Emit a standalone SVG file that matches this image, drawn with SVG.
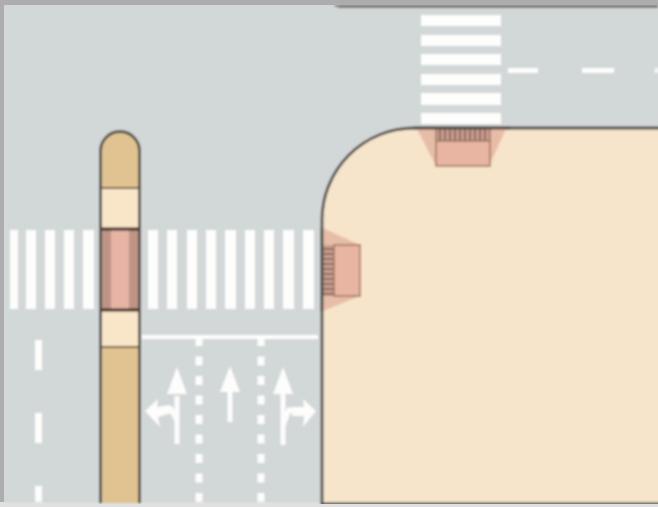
<svg xmlns="http://www.w3.org/2000/svg" width="658" height="507" viewBox="0 0 658 507">
<defs>
<style>
.m{fill:#fdfdfc}
.curb{fill:#f6e4cb;stroke:#504b45;stroke-width:2.8}
.ramp{fill:#e8bda7;stroke:none}
.slab{fill:#e8b5a3;stroke:#a07a66;stroke-width:1.6}
.under{fill:#c99f8f}
.hatch{stroke:#8f6a60;stroke-width:2}
.arrow{fill:none;stroke:#fdfdfc;stroke-width:5}
.head{fill:#fdfdfc}
.edge{stroke:#504b45;stroke-width:2.8;fill:none}
</style>
<filter id="soft" x="0" y="0" width="100%" height="100%"><feGaussianBlur stdDeviation="0.9"/></filter>
</defs>
<rect width="658" height="507" fill="#e0e0e1"/>
<rect x="0" y="5" width="658" height="497" fill="#d2d7d8"/>
<g filter="url(#soft)">
<rect x="4" y="5" width="654" height="497" fill="#d2d7d8"/>
<path d="M334 6L340 8H658V5H334Z" fill="#77736d"/>
<g id="block">
<path class="curb" d="M322 504V220A92 92 0 0 1 414 128H662V504Z"/>
</g>
<g id="crosswalk-west">
<rect class="m" x="10" y="230" width="8" height="79"/>
<rect class="m" x="26" y="230" width="10" height="79"/>
<rect class="m" x="45" y="230" width="10" height="79"/>
<rect class="m" x="64" y="230" width="10" height="79"/>
<rect class="m" x="83" y="230" width="11" height="79"/>
<rect class="m" x="148" y="230" width="10" height="79"/>
<rect class="m" x="167" y="230" width="10" height="79"/>
<rect class="m" x="187" y="230" width="10" height="79"/>
<rect class="m" x="206" y="230" width="10" height="79"/>
<rect class="m" x="225" y="230" width="11" height="79"/>
<rect class="m" x="245" y="230" width="10" height="79"/>
<rect class="m" x="264" y="230" width="10" height="79"/>
<rect class="m" x="283" y="230" width="11" height="79"/>
<rect class="m" x="303" y="230" width="11" height="79"/>
</g>
<g id="crosswalk-north">
<rect class="m" x="421" y="15" width="80" height="11"/>
<rect class="m" x="421" y="35" width="80" height="11"/>
<rect class="m" x="421" y="54" width="80" height="11"/>
<rect class="m" x="421" y="74" width="80" height="11"/>
<rect class="m" x="421" y="93" width="80" height="12"/>
<rect class="m" x="421" y="113" width="80" height="11"/>
</g>
<g id="lane-marks">
<rect class="m" x="508" y="68" width="30" height="5"/>
<rect class="m" x="582" y="68" width="32" height="5"/>
<rect class="m" x="655" y="68" width="3" height="5"/>
<rect class="m" x="35" y="340" width="7" height="30"/>
<rect class="m" x="35" y="413" width="7" height="30"/>
<rect class="m" x="35" y="486" width="7" height="16"/>
<rect class="m" x="142" y="335" width="176" height="4"/>
<path d="M199 337V502M261 337V502" stroke="#fdfdfc" stroke-width="7" stroke-dasharray="9 10.500" fill="none"/>
</g>
<g id="arrow-left">
<path class="arrow" d="M177 444V396M176 419L171 409L157 412"/>
<path class="head" d="M177 367L187 394H167Z"/>
<path class="head" d="M145 411L158 399L157 407L170 405L172 413L158 417L160 427Z"/>
</g>
<g id="arrow-straight">
<path class="arrow" d="M230 390V422"/>
<path class="head" d="M230 366L240 392H220Z"/>
</g>
<g id="arrow-right">
<path class="arrow" d="M283 445V394M283 425L289 410L304 412"/>
<path class="head" d="M283 367L293 394H273Z"/>
<path class="head" d="M316 411L303 399L304 407H292V416H304L303 427Z"/>
</g>
<g id="median">
<path d="M100 503V151A20 20 0 0 1 140 151V503Z" fill="#e0c391"/>
<rect x="101" y="189" width="38" height="39" fill="#f9e6c8"/>
<rect x="101" y="311" width="38" height="36" fill="#f9e6c8"/>
<rect x="101" y="229" width="38" height="81" fill="#e6b3a4"/>
<rect x="101" y="229" width="10" height="81" fill="#bf9487"/>
<rect x="129" y="229" width="10" height="81" fill="#bf9487"/>
<path d="M100 188H140M100 347H140" stroke="#6f5b45" stroke-width="1.800"/>
<path d="M100 229H140M100 310H140" stroke="#3a2a24" stroke-width="3"/>
<path class="edge" d="M100.500 503V151A19.500 19.500 0 0 1 139.500 151V503"/>
</g>
<g id="ramp-west">
<path class="ramp" d="M323 228L360 245V296L323 311Z"/>
<rect class="under" x="323" y="245" width="11" height="51"/>
<rect class="slab" x="334" y="245" width="26" height="51"/>
<path class="hatch" d="M323 249H334M323 254H334M323 259H334M323 264H334M323 269H334M323 274H334M323 279H334M323 284H334M323 289H334M323 294H334"/>
<path class="edge" d="M322 228V311"/>
</g>
<g id="ramp-north">
<path class="ramp" d="M417 129H506L489 166H436Z"/>
<rect class="under" x="436" y="129" width="54" height="12"/>
<rect class="slab" x="436" y="141" width="54" height="25"/>
<path d="M436 129V141M490 129V141" stroke="#a07a66" stroke-width="1.600"/>
<path class="hatch" d="M440 129V141M445 129V141M450 129V141M455 129V141M460 129V141M465 129V141M470 129V141M475 129V141M480 129V141M485 129V141"/>
<path class="edge" d="M414 128H510"/>
</g>
</g>
<path d="M0 0H658V5H4V502H0Z" fill="#adadaf"/>
</svg>
